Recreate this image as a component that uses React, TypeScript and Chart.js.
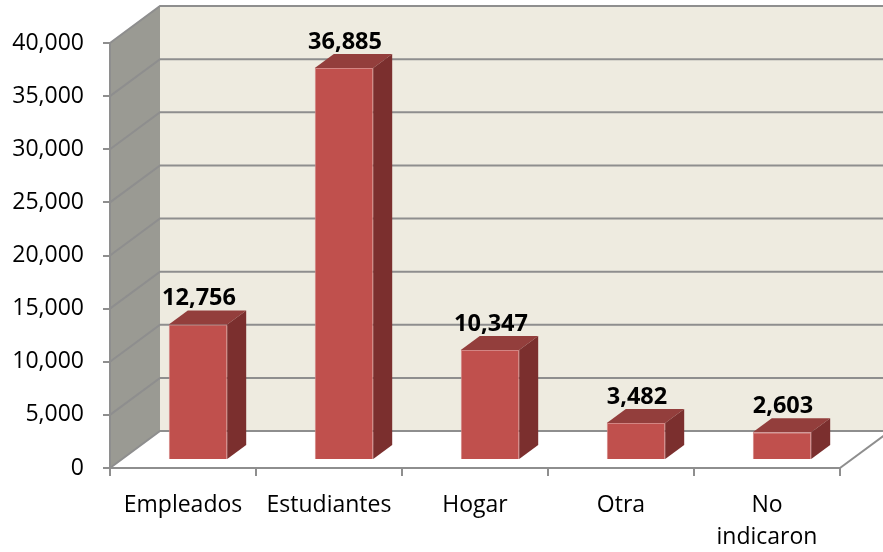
import React, { useEffect, useRef } from "react";
import { Chart, registerables } from "chart.js";

Chart.register(...registerables);

const categories: (string | string[])[] = ["Empleados", "Estudiantes", "Hogar", "Otra", ["No", "indicaron"]];
const values: number[] = [12756, 36885, 10347, 3482, 2603];
const yMin = 0;
const yMax = 40000;
const yStep = 5000;

const FONT = "'Open Sans'";
const fmt = (v: number) => v.toLocaleString("en-US");

const WALL_DX = 50;
const WALL_DY = -37;
const BAR_DX = 19;
const BAR_DY = -14;
const BAR_SHIFT_X = 15;
const BAR_SHIFT_Y = -8;

const wallsPlugin = {
  id: "walls3d",
  beforeDraw(chart: any) {
    const ctx = chart.ctx;
    const xs = chart.scales.x;
    const ys = chart.scales.y;
    const L = xs.left, R = xs.right, T = ys.top, B = ys.bottom;
    ctx.save();
    ctx.fillStyle = "#9A9A93";
    ctx.beginPath();
    ctx.moveTo(L, T);
    ctx.lineTo(L + WALL_DX, T + WALL_DY);
    ctx.lineTo(L + WALL_DX, B + WALL_DY);
    ctx.lineTo(L, B);
    ctx.closePath();
    ctx.fill();
    ctx.fillStyle = "#EEEBE0";
    ctx.fillRect(L + WALL_DX, T + WALL_DY, R - L, B - T);
    ctx.fillStyle = "#FFFFFF";
    ctx.beginPath();
    ctx.moveTo(L, B);
    ctx.lineTo(L + WALL_DX, B + WALL_DY);
    ctx.lineTo(R + WALL_DX, B + WALL_DY);
    ctx.lineTo(R, B);
    ctx.closePath();
    ctx.fill();
    ctx.strokeStyle = "#8E8E8E";
    ctx.lineWidth = 2;
    for (let v = yMin; v <= yMax; v += yStep) {
      const py = ys.getPixelForValue(v);
      ctx.beginPath();
      ctx.moveTo(L, py);
      ctx.lineTo(L + WALL_DX, py + WALL_DY);
      ctx.lineTo(R + WALL_DX, py + WALL_DY);
      ctx.stroke();
    }
    ctx.beginPath();
    ctx.moveTo(R, B);
    ctx.lineTo(R + WALL_DX, B + WALL_DY);
    ctx.stroke();
    ctx.restore();
  },
  beforeDatasetsDraw(chart: any) {
    chart.ctx.save();
    chart.ctx.translate(BAR_SHIFT_X, BAR_SHIFT_Y);
  },
  afterDatasetsDraw(chart: any) {
    const ctx = chart.ctx;
    const meta = chart.getDatasetMeta(0);
    meta.data.forEach((bar: any, i: number) => {
      const { x, y, base, width } = bar.getProps(["x", "y", "base", "width"], true);
      const l = x - width / 2;
      const r = x + width / 2;
      ctx.fillStyle = "#933E3C";
      ctx.beginPath();
      ctx.moveTo(l, y);
      ctx.lineTo(l + BAR_DX, y + BAR_DY);
      ctx.lineTo(r + BAR_DX, y + BAR_DY);
      ctx.lineTo(r, y);
      ctx.closePath();
      ctx.fill();
      ctx.fillStyle = "#7B2F2E";
      ctx.beginPath();
      ctx.moveTo(r, y);
      ctx.lineTo(r + BAR_DX, y + BAR_DY);
      ctx.lineTo(r + BAR_DX, base + BAR_DY);
      ctx.lineTo(r, base);
      ctx.closePath();
      ctx.fill();
      ctx.fillStyle = "#000000";
      ctx.font = `bold 23.5px ${FONT}`;
      ctx.textAlign = "center";
      ctx.textBaseline = "middle";
      ctx.fillText(fmt(values[i]), x + 1, y - 26);
    });
    ctx.restore();
  },
};

export default function App() {
  const ref = useRef<HTMLCanvasElement>(null);
  useEffect(() => {
    if (!ref.current) return;
    const chart = new Chart(ref.current, {
      type: "bar",
      data: {
        labels: categories as any,
        datasets: [
          {
            data: values,
            backgroundColor: "#C0504D",
            borderColor: "#D38583",
            borderWidth: 1,
            categoryPercentage: 1,
            barPercentage: 0.4,
          },
        ],
      },
      options: {
        animation: false,
        responsive: false,
        maintainAspectRatio: false,
        devicePixelRatio: 1,
        layout: { padding: { top: 43, right: 43, left: 0, bottom: 0 } },
        plugins: { legend: { display: false }, tooltip: { enabled: false } },
        scales: {
          x: {
            offset: true,
            grid: { drawOnChartArea: false, offset: true, tickLength: 8, color: "#8E8E8E", lineWidth: 2 },
            border: { display: true, color: "#8E8E8E", width: 2 },
            ticks: { color: "#000", font: { family: FONT, size: 23, lineHeight: 1.4 }, padding: 13, maxRotation: 0, autoSkip: false },
            afterFit: (s: any) => { s.height = 84; },
          },
          y: {
            min: yMin,
            max: yMax,
            grid: { drawOnChartArea: false, tickLength: 7, color: "#8E8E8E", lineWidth: 2 },
            border: { display: true, color: "#8E8E8E", width: 2 },
            ticks: { stepSize: yStep, color: "#000", font: { family: FONT, size: 23 }, padding: 19, callback: (v: any) => fmt(Number(v)) },
            afterFit: (s: any) => { s.width = 110; },
          },
        },
      },
      plugins: [wallsPlugin],
    });
    return () => chart.destroy();
  }, []);
  return (
    <div style={{ position: "absolute", left: 0, top: 0, width: 883, height: 552, background: "#fff" }}>
      <canvas ref={ref} width={883} height={552} />
    </div>
  );
}
